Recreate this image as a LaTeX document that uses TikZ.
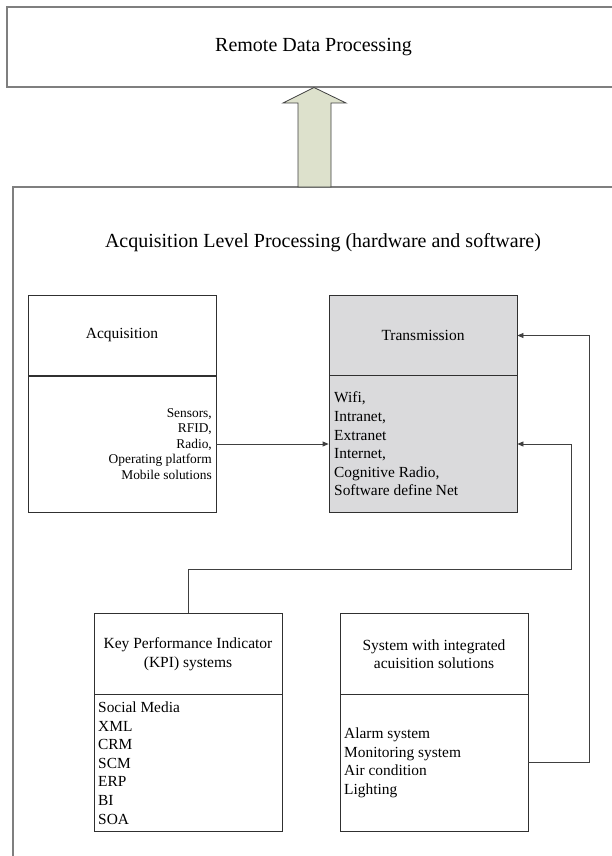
\documentclass[tikz,border=0pt]{standalone}
\usepackage{fontspec}
\setmainfont{Liberation Serif}
\usetikzlibrary{arrows.meta}
\definecolor{transgray}{HTML}{DADADC}
\definecolor{arrowfill}{HTML}{DDE1CC}
\definecolor{frameline}{HTML}{7F7F7F}
\definecolor{boxline}{HTML}{303030}
\definecolor{connline}{HTML}{404040}
\tikzset{
  bigframe/.style={draw=frameline, line width=1.1pt, rectangle, inner sep=0pt},
  halfbox/.style={draw=boxline, line width=0.8pt, rectangle, inner sep=0pt, minimum width=188pt},
  titlebox/.style={halfbox, minimum height=81pt, font=\fontsize{15.5}{18.5}\selectfont, align=center},
  listbox/.style={halfbox, minimum height=137pt},
  listtext/.style={inner sep=0pt, font=\fontsize{15.4}{18.6}\selectfont, align=left},
  conn/.style={draw=connline, line width=0.8pt, -{Triangle[length=6pt,width=5pt]}},
  plainconn/.style={draw=connline, line width=0.8pt},
}
\begin{document}
\begin{tikzpicture}[x=1pt, y=-1pt]
\useasboundingbox (0,0) rectangle (612,856);
\clip (0,0) rectangle (612,856);
\fill[white] (0,0) rectangle (612,856);
% top box
\node[bigframe, minimum width=613pt, minimum height=80pt, font=\fontsize{20}{24}\selectfont] (remote) at (313.5,47) {Remote Data Processing};
% outer box
\node[bigframe, minimum width=607pt, minimum height=683pt] (outer) at (316.5,528.5) {};
\node[inner sep=0pt, font=\fontsize{20}{24}\selectfont] (heading) at (323,243) {Acquisition Level Processing (hardware and software)};
% block arrow
\draw[draw=connline, line width=0.8pt, fill=arrowfill, line join=miter]
  (298,187) -- (298,103) -- (283,103) -- (314,87.5) -- (346,103) -- (331,103) -- (331,187) -- cycle;
% Acquisition
\node[titlebox] (acqT) at (122,335.5) {Acquisition};
\node[listbox] (acqL) at (122,444) {};
\node[inner sep=0pt, font=\fontsize{13.4}{15.4}\selectfont, align=right, anchor=east] (acqText) at (212,444) {Sensors,\\RFID,\\Radio,\\Operating platform\\Mobile solutions};
% Transmission
\node[titlebox, fill=transgray] (trT) at (423,335.5) {Transmission};
\node[listbox, fill=transgray] (trL) at (423,444) {};
\node[listtext, anchor=west] (trText) at (334,444) {Wifi,\\Intranet,\\Extranet\\Internet,\\Cognitive Radio,\\Software define Net};
% KPI
\node[titlebox] (kpiT) at (188,654) {Key Performance Indicator\\(KPI) systems};
\node[listbox] (kpiL) at (188,762.5) {};
\node[listtext, anchor=west] (kpiText) at (98,763) {Social Media\\XML\\CRM\\SCM\\ERP\\BI\\SOA};
% System
\node[titlebox] (sysT) at (434,654) {System with integrated\\acuisition solutions};
\node[listbox] (sysL) at (434,762.5) {};
\node[listtext, anchor=west] (sysText) at (344,763) {Alarm system\\Monitoring system\\Air condition\\Lighting};
% connectors
\coordinate (c1) at (571,569);
\coordinate (c2) at (589,762.5);
\draw[conn] (acqL.east) -- (trL.west);
\draw[conn] (kpiT.north) |- (c1) |- (trL.east);
\draw[conn] (sysL.east) -- (c2) |- (trT.east);
\end{tikzpicture}
\end{document}
